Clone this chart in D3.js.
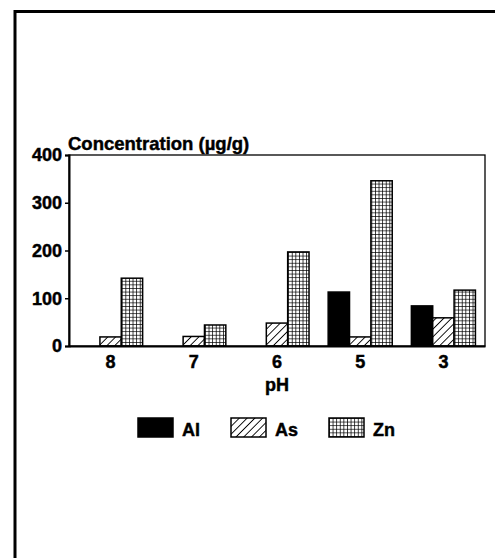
<!DOCTYPE html>
<html>
<head>
<meta charset="utf-8">
<script src="https://cdn.jsdelivr.net/npm/d3@7"></script>
<style>
  body { margin: 0; background: #fff; }
  svg { display: block; font-family: "Liberation Sans", Arial, sans-serif; font-weight: bold; }
  svg text { stroke: #000; stroke-width: 0.45px; fill: #000; }
</style>
</head>
<body>
<div id="chart"><svg></svg></div>
<script>
// values
var phLabels = ["8", "7", "6", "5", "3"];
var metals = ["Al", "As", "Zn"];
var alValues = [0, 0, 0, 113, 84];
var asValues = [19, 20, 48, 19, 59];
var znValues = [142, 44, 197, 346, 117];
var yTicks = [0, 100, 200, 300, 400];

var width = 495, height = 558;
var margin = {left: 69, right: 10, top: 155, bottom: 212};
var fontSize = 18;

var svg = d3.select("#chart svg").attr("width", width).attr("height", height);

// patterns
var defs = svg.append("defs");
var hatch = defs.append("pattern").attr("id", "hatch")
  .attr("patternUnits", "userSpaceOnUse").attr("width", 5.5).attr("height", 5.5)
  .attr("patternTransform", "rotate(45)");
hatch.append("rect").attr("width", 5.5).attr("height", 5.5).attr("fill", "#fff");
hatch.append("line").attr("x1", 0).attr("y1", 0).attr("x2", 0).attr("y2", 5.5)
  .attr("stroke", "#000").attr("stroke-width", 1.8);

var grid = defs.append("pattern").attr("id", "grid")
  .attr("patternUnits", "userSpaceOnUse").attr("width", 3.6).attr("height", 3.6);
grid.append("rect").attr("width", 3.6).attr("height", 3.6).attr("fill", "#fff");
grid.append("path").attr("d", "M0,0H3.6M0,0V3.6")
  .attr("stroke", "#000").attr("stroke-width", 1.5);

var fills = {Al: "#000", As: "url(#hatch)", Zn: "url(#grid)"};

// outer frame of the figure
svg.append("path")
  .attr("d", "M15," + height + "V11.5H" + width)
  .attr("fill", "none").attr("stroke", "#000").attr("stroke-width", 3);

var x0 = d3.scaleBand().domain(phLabels)
  .range([margin.left, width - margin.right]).paddingInner(0.23).paddingOuter(0.115);
var x1 = d3.scaleBand().domain(metals).range([0, x0.bandwidth()]);
var y = d3.scaleLinear().domain([0, 400]).range([height - margin.bottom, margin.top]);

var data = phLabels.map(function(p, i) {
  return {ph: p, vals: [alValues[i], asValues[i], znValues[i]]};
});

var groups = svg.selectAll("g.grp").data(data).enter().append("g")
  .attr("class", "grp")
  .attr("transform", function(d) { return "translate(" + x0(d.ph) + ",0)"; });

groups.selectAll("rect")
  .data(function(d) {
    return d.vals.map(function(v, j) { return {m: metals[j], v: v}; });
  })
  .enter().append("rect")
  .filter(function(d) { return d.v > 0; })
  .attr("x", function(d) { return x1(d.m); })
  .attr("y", function(d) { return y(d.v); })
  .attr("width", x1.bandwidth())
  .attr("height", function(d) { return y(0) - y(d.v); })
  .attr("fill", function(d) { return fills[d.m]; })
  .attr("stroke", "#000").attr("stroke-width", 1.5);

// plot box
svg.append("rect")
  .attr("x", margin.left).attr("y", margin.top)
  .attr("width", width - margin.right - margin.left)
  .attr("height", y(0) - margin.top)
  .attr("fill", "none").attr("stroke", "#000").attr("stroke-width", 1.3);

// y axis
var yAxis = svg.append("g")
  .attr("transform", "translate(" + margin.left + ",0)")
  .call(d3.axisLeft(y).tickValues(yTicks).tickSize(4).tickPadding(3));
yAxis.select(".domain").attr("stroke-width", 2);
yAxis.selectAll(".tick line").attr("stroke-width", 1.5);
yAxis.selectAll("text").attr("font-size", fontSize).attr("font-weight", "bold")
  .attr("font-family", "Liberation Sans, Arial, sans-serif");

// x axis
var xAxis = svg.append("g")
  .attr("transform", "translate(0," + y(0) + ")")
  .call(d3.axisBottom(x0).tickSize(0).tickPadding(9));
xAxis.select(".domain").attr("stroke-width", 2);
xAxis.selectAll("text").attr("font-size", fontSize).attr("font-weight", "bold")
  .attr("font-family", "Liberation Sans, Arial, sans-serif");

svg.append("text").attr("x", 68).attr("y", 150)
  .attr("font-size", 18.5).text("Concentration (\u00b5g/g)");

svg.append("text").attr("x", (margin.left + width - margin.right) / 2).attr("y", 391)
  .attr("text-anchor", "middle").attr("font-size", fontSize).text("pH");

// legend
var legendX = [138, 231, 329];
var legend = svg.selectAll("g.leg").data(metals).enter().append("g")
  .attr("class", "leg")
  .attr("transform", function(d, i) { return "translate(" + legendX[i] + ",418)"; });
legend.append("rect").attr("width", 35).attr("height", 19)
  .attr("fill", function(d) { return fills[d]; })
  .attr("stroke", "#000").attr("stroke-width", 1.5);
legend.append("text").attr("x", 44).attr("y", 18)
  .attr("font-size", fontSize).text(function(d) { return d; });
</script>
</body>
</html>
